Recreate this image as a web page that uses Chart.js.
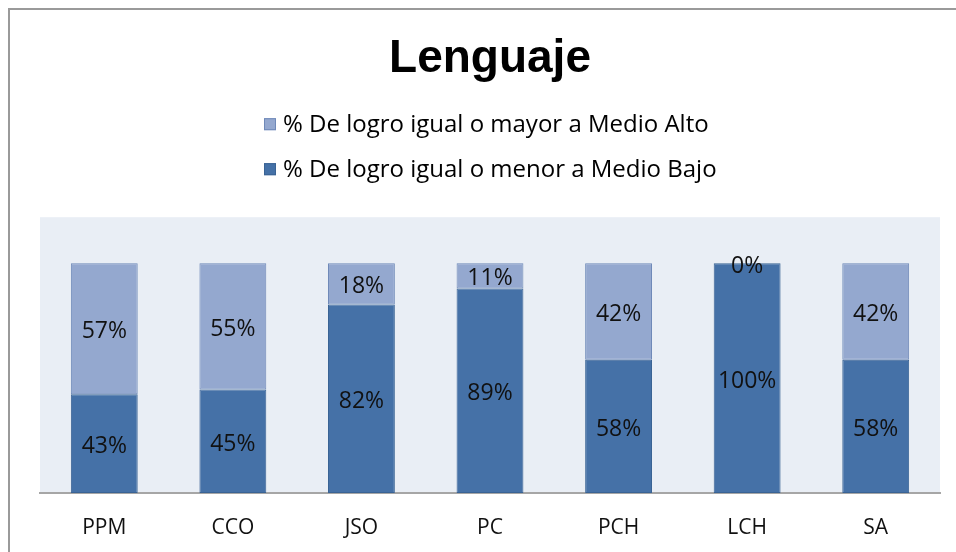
<!DOCTYPE html>
<html>
<head>
<meta charset="utf-8">
<script src="https://cdn.jsdelivr.net/npm/chart.js@4"></script>
<style>
  html, body { margin: 0; padding: 0; background: #fff; }
  #wrap { position: relative; width: 956px; height: 552px; overflow: hidden; }
  #marco { position: absolute; left: 8px; top: 8px; width: 1000px; height: 1000px; border: 2px solid #9a9a9a; box-sizing: border-box; pointer-events: none; }
  canvas { position: absolute; left: 0; top: 0; }
</style>
</head>
<body>
<div id="wrap">
  <canvas id="grafico-lenguaje" width="956" height="552"></canvas>
  <div id="marco"></div>
</div>
<script>
const cursos = ['PPM', 'CCO', 'JSO', 'PC', 'PCH', 'LCH', 'SA'];
const medioBajo = [43, 45, 82, 89, 58, 100, 58];
const medioAlto = [57, 55, 18, 11, 42, 0, 42];
const etiquetaBajo = '% De logro igual o menor a Medio Bajo';
const etiquetaAlto = '% De logro igual o mayor a Medio Alto';

const fuenteTexto = "'Open Sans', sans-serif";

// fondo del area de graficos
const fondoArea = {
    id: 'fondoArea',
    beforeDraw(chart) {
        const { ctx, chartArea: a } = chart;
        ctx.save();
        ctx.fillStyle = '#e9eef5';
        ctx.fillRect(a.left, a.top, a.right - a.left, a.bottom - a.top);
        ctx.restore();
    }
};

// leyenda apilada en vertical (Alto arriba, Bajo abajo)
const leyendaVertical = {
    id: 'leyendaVertical',
    afterDraw(chart) {
        const { ctx, chartArea: a } = chart;
        const items = chart.data.datasets.slice().reverse();
        ctx.save();
        ctx.font = '24px ' + fuenteTexto;
        const anchoMax = Math.max(...items.map(d => ctx.measureText(d.label).width));
        const total = 12 + 7 + anchoMax;
        const x0 = Math.round((a.left + a.right) / 2 - total / 2);
        items.forEach((d, i) => {
            const y = a.top - 93 + i * 45;
            ctx.fillStyle = d.backgroundColor;
            ctx.strokeStyle = d.borderColor;
            ctx.lineWidth = 1;
            ctx.fillRect(x0, y - 6, 12, 12);
            ctx.strokeRect(x0 + 0.5, y - 5.5, 11, 11);
            ctx.fillStyle = '#000';
            ctx.textBaseline = 'middle';
            ctx.textAlign = 'left';
            ctx.fillText(d.label, x0 + 19, y + 1);
        });
        ctx.restore();
    }
};

// etiquetas de porcentaje dentro de cada segmento
const etiquetasDatos = {
    id: 'etiquetasDatos',
    afterDatasetsDraw(chart) {
        const { ctx } = chart;
        ctx.save();
        ctx.font = '23px ' + fuenteTexto;
        ctx.fillStyle = '#111';
        ctx.textAlign = 'center';
        ctx.textBaseline = 'middle';
        chart.data.datasets.forEach((ds, i) => {
            chart.getDatasetMeta(i).data.forEach((bar, j) => {
                const y = (bar.y + bar.base) / 2 + 3;
                ctx.fillText(ds.data[j] + '%', bar.x, y);
            });
        });
        ctx.restore();
    }
};

new Chart(document.getElementById('grafico-lenguaje'), {
    type: 'bar',
    data: {
        labels: cursos,
        datasets: [{
            label: etiquetaBajo,
            data: medioBajo,
            backgroundColor: '#4571a7',
            borderColor: '#3a6394',
            borderWidth: 1,
            borderSkipped: false
        }, {
            label: etiquetaAlto,
            data: medioAlto,
            backgroundColor: '#94a8cf',
            borderColor: '#6f89b8',
            borderWidth: 1,
            borderSkipped: false
        }]
    },
    options: {
        responsive: false,
        animation: false,
        events: [],
        layout: { padding: { left: 40, right: 16, top: 0, bottom: 11 } },
        datasets: {
            bar: { categoryPercentage: 1, barPercentage: 0.52 }
        },
        plugins: {
            legend: { display: false },
            tooltip: { enabled: false },
            title: {
                display: true,
                text: 'Lenguaje',
                color: '#000',
                font: { family: "'Liberation Sans', Arial, sans-serif", size: 46, weight: 'bold' },
                padding: { top: 32, bottom: 130 }
            }
        },
        scales: {
            x: {
                stacked: true,
                grid: { display: false, drawTicks: false },
                border: { display: true, color: '#a6a6a6', width: 2 },
                ticks: { color: '#111', padding: 22, font: { family: fuenteTexto, size: 21 } },
                afterFit(scale) { scale.height = 48; }
            },
            y: {
                stacked: true,
                display: false,
                min: 0,
                max: 120
            }
        }
    },
    plugins: [fondoArea, leyendaVertical, etiquetasDatos]
});
</script>
</body>
</html>
